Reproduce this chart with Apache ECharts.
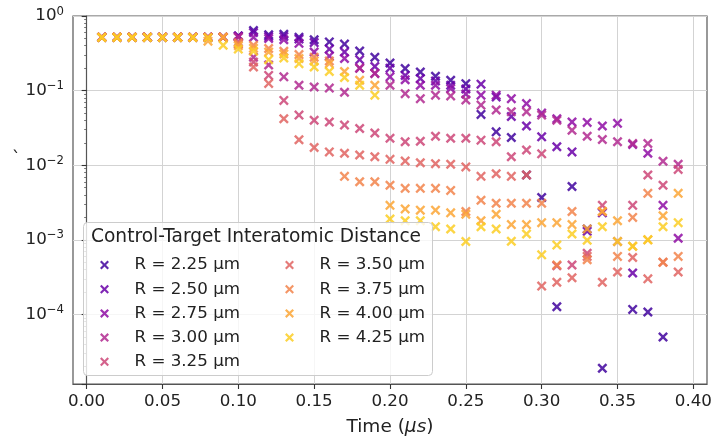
<!DOCTYPE html>
<html><head><meta charset="utf-8">
<script src="https://cdn.jsdelivr.net/npm/echarts@6/dist/echarts.min.js"></script>
<style>html,body{margin:0;padding:0;background:#fff}#c{width:722px;height:436px}</style>
</head><body><div id="c"></div>
<script>
const times = [0.01,0.02,0.03,0.04,0.05,0.06,0.07,0.08,0.09,0.10,
  0.11,0.12,0.13,0.14,0.15,0.16,0.17,0.18,0.19,0.20,
  0.21,0.22,0.23,0.24,0.25,0.26,0.27,0.28,0.29,0.30,
  0.31,0.32,0.33,0.34,0.35,0.36,0.37,0.38,0.39];
const seriesNames = ['R = 2.25 µm','R = 2.50 µm','R = 2.75 µm','R = 3.00 µm','R = 3.25 µm',
  'R = 3.50 µm','R = 3.75 µm','R = 4.00 µm','R = 4.25 µm'];
const r225 = [0.52,0.52,0.52,0.52,0.52,0.52,0.52,0.52,0.52,0.54,
  0.64,0.56,0.57,0.52,0.48,0.45,0.42,0.34,0.28,0.235,
  0.198,0.178,0.156,0.138,0.124,0.048,0.028,0.0235,0.0074,0.0037,
  0.000127,0.0052,0.0014,0.000019,null,0.000117,0.000108,0.00005,null];
const r250 = [0.52,0.52,0.52,0.52,0.52,0.52,0.52,0.52,0.52,0.54,
  0.60,0.53,0.53,0.49,0.44,0.36,0.33,0.26,0.21,0.20,
  0.16,0.145,0.135,0.118,0.105,0.122,0.082,0.045,0.0335,0.024,
  0.0177,0.0151,0.0013,0.0023,null,0.00036,null,null,null];
const r275 = [0.52,0.52,0.52,0.52,0.52,0.52,0.52,0.52,0.52,0.53,
  0.52,0.50,0.48,0.43,0.33,0.29,0.27,0.20,0.17,0.153,
  0.14,0.118,0.118,0.107,0.09,0.087,0.087,0.078,0.067,0.05,
  0.042,0.038,0.0375,0.0335,0.0364,0.019,0.0145,0.0029,0.00105];
const r300 = [0.52,0.52,0.52,0.52,0.52,0.52,0.52,0.52,0.52,0.52,
  0.28,0.22,0.153,0.118,0.112,0.108,0.095,0.20,0.17,0.118,
  0.091,0.078,0.087,0.085,0.075,0.064,0.055,0.052,0.052,0.047,
  0.04,0.0295,0.0245,0.0221,0.0206,0.0196,0.0196,0.0113,0.0103];
const r325 = [0.52,0.52,0.52,0.52,0.52,0.52,0.52,0.52,0.52,0.45,
  0.242,0.16,0.074,0.047,0.040,0.038,0.0345,0.031,0.027,0.023,
  0.0206,0.021,0.0245,0.023,0.023,0.0217,0.0206,0.013,0.016,0.0142,
  0.00045,0.00046,0.00066,0.0029,0.00095,0.0029,0.0074,0.0054,0.0088];
const r350 = [0.52,0.52,0.52,0.52,0.52,0.52,0.52,0.52,0.52,0.42,
  0.207,0.125,0.042,0.022,0.0173,0.0151,0.0145,0.0137,0.013,0.012,
  0.0114,0.0108,0.0105,0.0103,0.0095,0.0071,0.0077,0.0071,0.0074,0.00024,
  0.00027,0.00031,0.0006,0.00027,0.00037,0.00058,0.0003,0.0005,0.00037];
const r375 = [0.52,0.52,0.52,0.52,0.52,0.52,0.52,0.52,0.52,0.43,
  0.405,0.366,0.337,0.304,0.28,0.25,0.0071,0.006,0.006,0.0054,
  0.0049,0.0049,0.0049,0.0046,0.0024,0.0034,0.0031,0.0031,0.0031,0.0031,
  0.00046,0.0024,0.00054,0.0024,0.0006,0.002,0.0042,0.0005,0.0006];
const r400 = [0.52,0.52,0.52,0.52,0.52,0.52,0.52,0.46,0.52,0.40,
  0.37,0.33,0.31,0.27,0.25,0.23,0.18,0.138,0.118,0.0029,
  0.0026,0.0025,0.0025,0.0023,0.0022,0.0018,0.0022,0.0016,0.0016,0.0017,
  0.0017,0.0016,0.0014,0.0024,0.0018,0.00082,0.001,0.0021,0.0042];
const r425 = [0.514,0.514,0.514,0.514,0.514,0.514,0.514,0.51,0.405,0.36,
  0.337,0.26,0.274,0.23,0.207,0.18,0.15,0.118,0.087,0.0019,
  0.0018,0.0018,0.0015,0.0014,0.00095,0.0015,0.0014,0.00096,0.0012,0.00063,
  0.00085,0.0012,0.00099,0.0015,0.00095,0.00082,0.001,0.0015,0.0017];
const allValues = [r225,r250,r275,r300,r325,r350,r375,r400,r425];
const xTicks = [0,0.05,0.10,0.15,0.20,0.25,0.30,0.35,0.40];
const colors = ['#41049d','#6a00a8','#8f0da4','#b12a90','#cc4778','#e16462','#f2844b','#fca636','#fcce25'];

const FONT = 'DejaVu Sans';
const XSYM = 'path://M1.7,0L5,3.3L8.3,0L10,1.7L6.7,5L10,8.3L8.3,10L5,6.7L1.7,10L0,8.3L3.3,5L0,1.7Z';

const series = allValues.map((vals, k) => ({
  name: seriesNames[k],
  type: 'scatter',
  symbol: XSYM,
  symbolSize: 10,
  itemStyle: { color: colors[k], opacity: 0.85 },
  data: times.map((t, i) => [t, vals[i]]).filter(d => d[1] !== null),
  z: 2
}));

const legendCommon = {
  orient: 'vertical', top: 256, padding: 0, itemWidth: 30, itemHeight: 9, itemGap: 6.2,
  selectedMode: false, z: 60,
  textStyle: { fontFamily: FONT, fontSize: 16.7, color: '#222', lineHeight: 18, padding: [0, 0, 0, 10] }
};

const chart = echarts.init(document.getElementById('c'), null, { renderer: 'canvas' });
chart.setOption({
  animation: false,
  backgroundColor: '#fff',
  grid: { left: 73, right: 15, top: 16, bottom: 52, outerBoundsMode: 'none', containLabel: false,
    show: true, borderColor: '#555', borderWidth: 1.2, backgroundColor: 'transparent' },
  xAxis: {
    type: 'value', min: -0.009, max: 0.409,
    name: 'Time ({i|μs})', nameLocation: 'middle', nameGap: 34,
    nameTextStyle: { fontFamily: FONT, fontSize: 18.5, color: '#222',
      rich: { i: { fontFamily: FONT, fontSize: 18.5, fontStyle: 'italic', color: '#222' } } },
    axisLine: { show: true, onZero: false, lineStyle: { color: '#555', width: 1.2 } },
    axisTick: { show: true, customValues: xTicks, length: 5, lineStyle: { color: '#333', width: 1.1 } },
    axisLabel: { customValues: xTicks, formatter: v => v.toFixed(2), fontFamily: FONT, fontSize: 16.7, color: '#222', margin: 9 },
    splitLine: { show: true, lineStyle: { color: '#d3d3d3', width: 1 } }
  },
  yAxis: {
    type: 'log', logBase: 10, min: 1.17e-5, max: 1,
    axisLine: { show: true, lineStyle: { color: '#555', width: 1.2 } },
    axisTick: { show: true, length: 5, lineStyle: { color: '#333', width: 1.1 } },
    minorTick: { show: true, splitNumber: 9, length: 2.5, lineStyle: { color: '#555', width: 0.8 } },
    axisLabel: {
      fontFamily: FONT, fontSize: 16.7, color: '#222', margin: 9,
      formatter: v => {
        const l = Math.log10(v), e = Math.round(l);
        if (Math.abs(l - e) > 0.01 || e < -4) return '';
        return '{b|10}{s|' + (e < 0 ? '\u2212' + (-e) : String(e)) + '}';
      },
      rich: {
        b: { fontFamily: FONT, fontSize: 16.7, color: '#222' },
        s: { fontFamily: FONT, fontSize: 11.7, color: '#222', padding: [0, 0, 9, 0] }
      }
    },
    splitLine: { show: true, lineStyle: { color: '#d3d3d3', width: 1 } }
  },
  legend: [
    Object.assign({}, legendCommon, { left: 100, data: seriesNames.slice(0, 5) }),
    Object.assign({}, legendCommon, { left: 285, data: seriesNames.slice(5) })
  ],
  graphic: [
    { type: 'rect', z: 50, shape: { x: 83.5, y: 222.5, width: 349, height: 153, r: 4 },
      style: { fill: 'rgba(255,255,255,0.8)', stroke: '#cccccc', lineWidth: 1 } },
    { type: 'text', z: 51, x: 91, y: 237,
      style: { text: 'Control-Target Interatomic Distance', font: '18.6px "DejaVu Sans"', fill: '#222', verticalAlign: 'middle' } },
    { type: 'text', z: 51, x: 12, y: 151,
      style: { text: '`', font: '17px "DejaVu Sans"', fill: '#222' } }
  ],
  series: series
});
</script></body></html>
